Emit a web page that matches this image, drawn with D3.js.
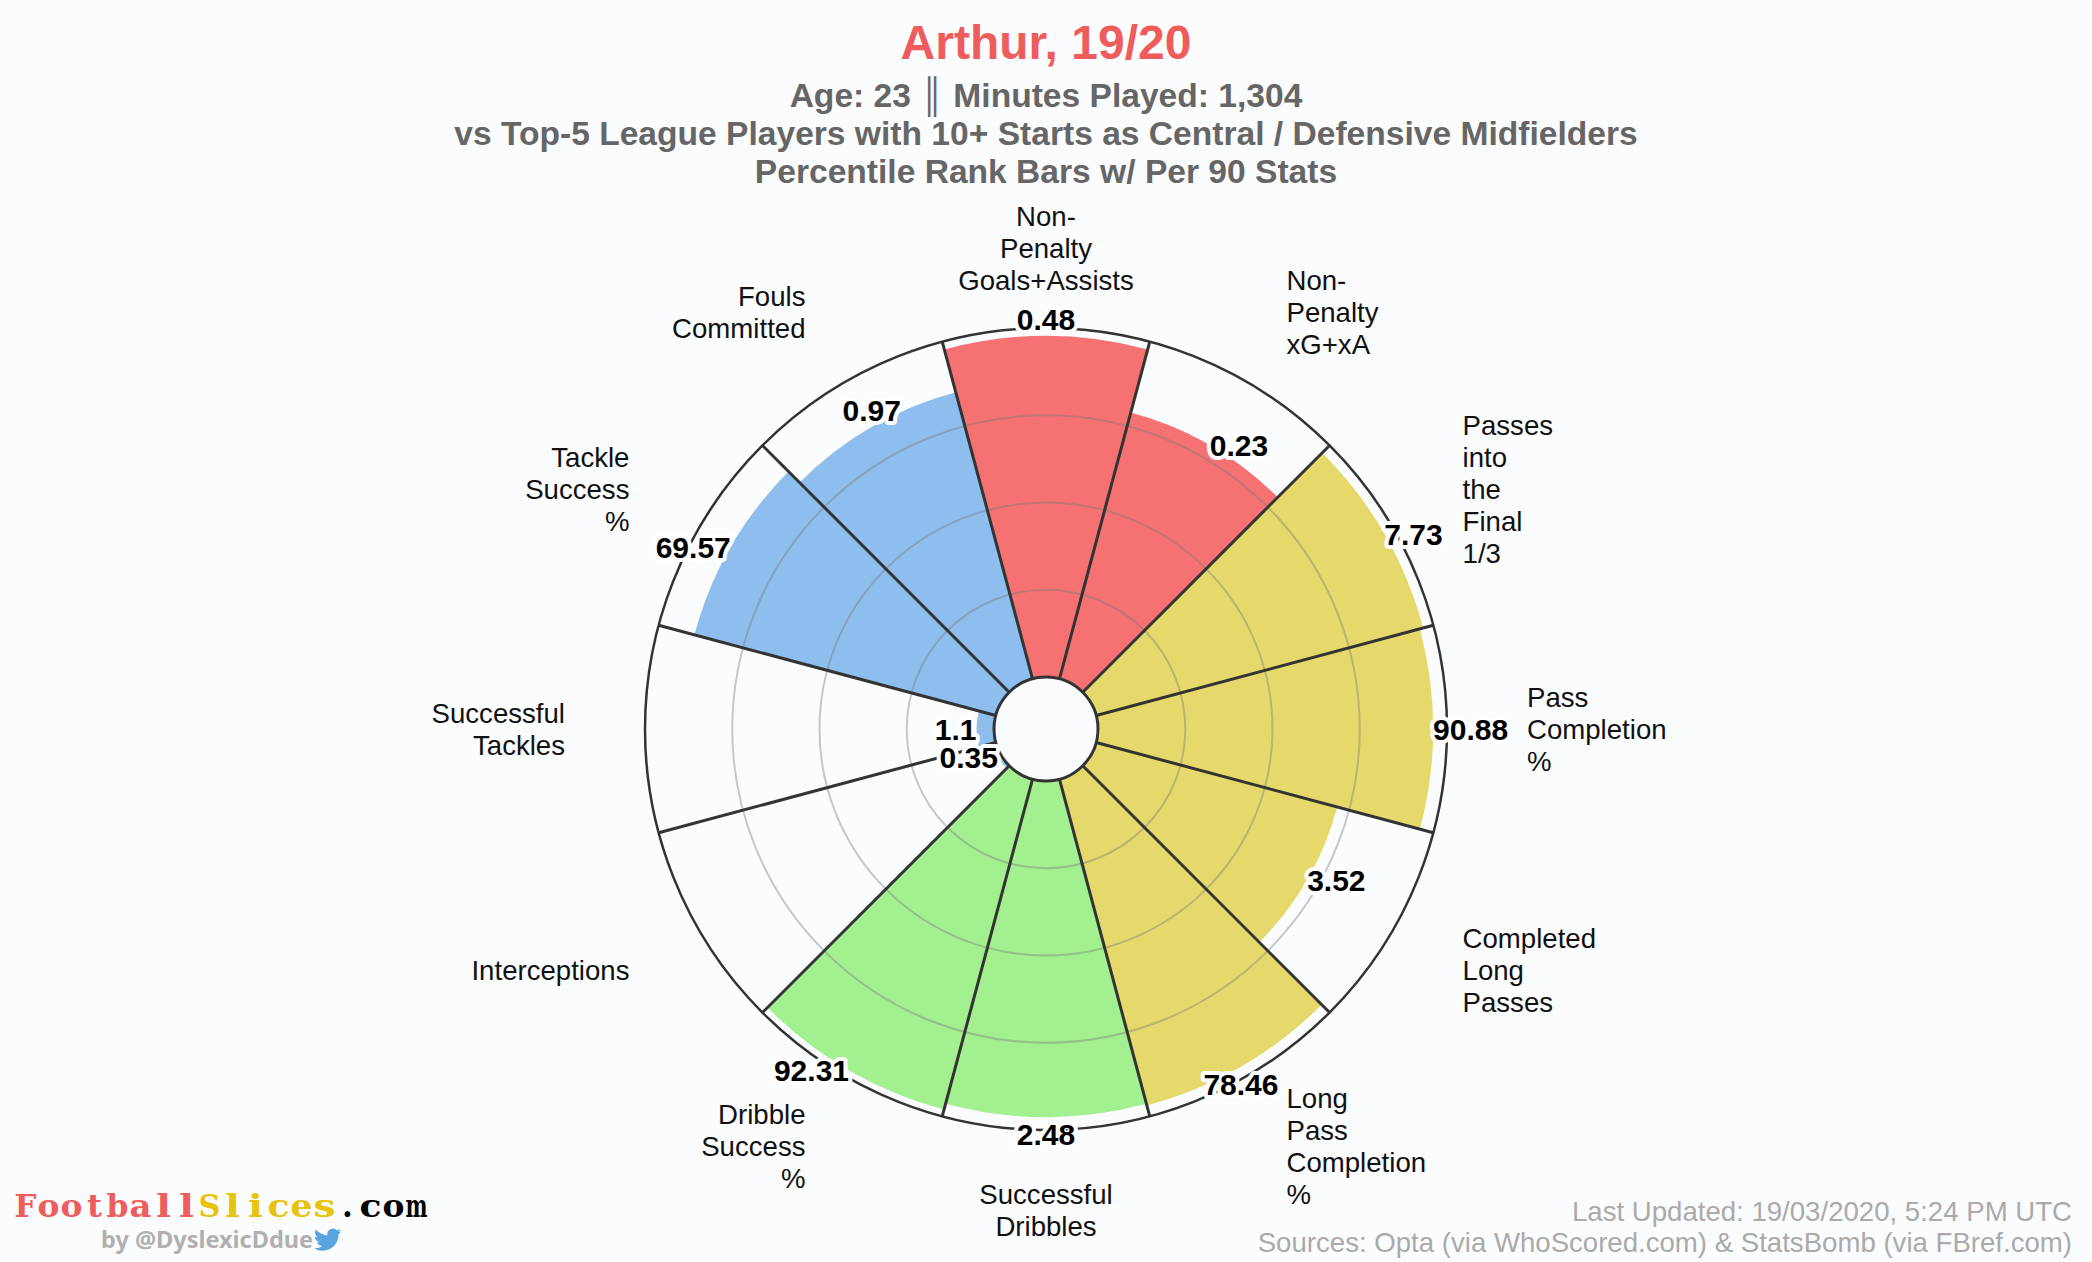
<!DOCTYPE html>
<html>
<head>
<meta charset="utf-8">
<script src="https://cdn.jsdelivr.net/npm/d3@7"></script>
<style>
  body { margin: 0; background: #fbfcfe; }
  text { font-family: "Liberation Sans", Arial, sans-serif; }
</style>
</head>
<body>
<div id="viz"></div>
<script>
// clockwise from the top slice
var categories = ["Non-Penalty Goals+Assists", "Non-Penalty xG+xA", "Passes into the Final 1/3",
  "Pass Completion %", "Completed Long Passes", "Long Pass Completion %", "Successful Dribbles",
  "Dribble Success %", "Interceptions", "Successful Tackles", "Tackle Success %", "Fouls Committed"];
var percentiles = [97.7, 79, 97, 96, 71.5, 96.8, 96.3, 98, 1, 5, 89.4, 85];
var statLabels = ["0.48", "0.23", "7.73", "90.88", "3.52", "78.46", "2.48", "92.31", "0.35", "1.1", "69.57", "0.97"];
var groups = ["attack", "attack", "passing", "passing", "passing", "passing",
  "dribbling", "dribbling", "defending", "defending", "defending", "defending"];
var groupNames = ["attack", "passing", "dribbling", "defending"];
var groupColours = ["#f67272", "#e6d96c", "#a3f090", "#8ebeee"];
var ringTicks = [25, 50, 75];
var subtitleLines = ["Age: 23 \u2551 Minutes Played: 1,304",
  "vs Top-5 League Players with 10+ Starts as Central / Defensive Midfielders",
  "Percentile Rank Bars w/ Per 90 Stats"];
var footerLines = ["Last Updated: 19/03/2020, 5:24 PM UTC",
  "Sources: Opta (via WhoScored.com) & StatsBomb (via FBref.com)"];
var logoParts = ["Football", "Slices", ".com"];
var logoColours = ["#ee5c5c", "#e8c30c", "#000000"];

var width = 2092, height = 1262;
var cx = 1046, cy = 729;
var hole_radius = 52, outer_radius = 401, label_radius = 481;
var line_colour = "#333333";

var svg = d3.select("#viz").append("svg")
  .attr("width", width)
  .attr("height", height)
  .style("display", "block");

svg.append("rect").attr("width", width).attr("height", height).attr("fill", "#fbfcfe");

var r = d3.scaleLinear().domain([0, 100]).range([hole_radius, outer_radius]);
var angle = d3.scaleBand().domain(categories).range([-Math.PI / 12, 2 * Math.PI - Math.PI / 12]);
var colour = d3.scaleOrdinal().domain(groupNames).range(groupColours);

function mid(c) { return angle(c) + angle.bandwidth() / 2; }
function px(rad, a) { return rad * Math.sin(a); }
function py(rad, a) { return -rad * Math.cos(a); }

var plot = svg.append("g").attr("transform", "translate(" + cx + "," + cy + ")");

// bars
var arc = d3.arc();
plot.selectAll(".bar").data(categories).join("path")
  .attr("class", "bar")
  .attr("fill", function(d, i) { return colour(groups[i]); })
  .attr("d", function(d, i) {
    return arc({ innerRadius: hole_radius, outerRadius: r(percentiles[i]),
      startAngle: angle(d), endAngle: angle(d) + angle.bandwidth() });
  });

// rings
plot.selectAll(".ring").data(ringTicks).join("circle")
  .attr("class", "ring")
  .attr("r", function(d) { return r(d); })
  .attr("fill", "none")
  .attr("stroke", "rgba(120,120,120,0.4)")
  .attr("stroke-width", 2);

// spokes
plot.selectAll(".spoke").data(categories).join("line")
  .attr("class", "spoke")
  .attr("x1", function(d) { return px(r(0), angle(d)); })
  .attr("y1", function(d) { return py(r(0), angle(d)); })
  .attr("x2", function(d) { return px(r(100), angle(d)); })
  .attr("y2", function(d) { return py(r(100), angle(d)); })
  .attr("stroke", line_colour)
  .attr("stroke-width", 3);

plot.append("circle").attr("r", r(100)).attr("fill", "none")
  .attr("stroke", line_colour).attr("stroke-width", 2.5);
plot.append("circle").attr("r", r(0)).attr("fill", "#fbfcfe")
  .attr("stroke", line_colour).attr("stroke-width", 3);

// category labels, one word per line
plot.selectAll(".cat").data(categories).join("text")
  .attr("class", "cat")
  .attr("font-size", 27.6)
  .attr("fill", "#111111")
  .attr("text-anchor", function(d) {
    var s = Math.sin(mid(d));
    return Math.abs(s) < 0.01 ? "middle" : (s > 0 ? "start" : "end");
  })
  .each(function(d) {
    var lines = d.split(/(?<=-)|\s+/);
    var x = px(label_radius, mid(d));
    var y = py(label_radius, mid(d)) - (lines.length - 1) * 32 / 2 + 10;
    d3.select(this).selectAll("tspan").data(lines).join("tspan")
      .attr("x", x)
      .attr("y", function(l, i) { return y + i * 32; })
      .text(function(l) { return l; });
  });

// value labels: centred above/below near the poles, otherwise beside the bar end
var above = [0, 11], below = [5, 6];
var values = plot.selectAll(".val").data(categories).join("text")
  .attr("class", "val")
  .attr("font-size", 30)
  .attr("font-weight", "bold")
  .attr("fill", "#000000")
  .attr("stroke", "#ffffff")
  .attr("stroke-width", 8)
  .attr("stroke-linejoin", "round")
  .attr("paint-order", "stroke")
  .attr("text-anchor", function(d, i) {
    if (above.indexOf(i) >= 0 || below.indexOf(i) >= 0) return "middle";
    return Math.sin(mid(d)) > 0 ? "start" : "end";
  })
  .attr("x", function(d, i) { return px(r(percentiles[i]), mid(d)); })
  .attr("y", function(d, i) {
    var y = py(r(percentiles[i]), mid(d)) + 11;
    if (above.indexOf(i) >= 0) y -= 17;
    if (below.indexOf(i) >= 0) y += 17;
    return y;
  })
  .text(function(d, i) { return statLabels[i]; });

// headings
svg.append("text").attr("x", cx).attr("y", 59)
  .attr("text-anchor", "middle").attr("font-size", 48).attr("font-weight", "bold")
  .attr("fill", "#ee5c5c").text("Arthur, 19/20");

svg.selectAll(".sub").data(subtitleLines).join("text")
  .attr("class", "sub")
  .attr("x", cx)
  .attr("y", function(d, i) { return 107 + i * 38; })
  .attr("text-anchor", "middle")
  .attr("font-size", 33.6)
  .attr("font-weight", "bold")
  .attr("fill", "#666666")
  .text(function(d) { return d; });

// footer
svg.selectAll(".foot").data(footerLines).join("text")
  .attr("class", "foot")
  .attr("x", 2072)
  .attr("y", function(d, i) { return 1221 + i * 31; })
  .attr("text-anchor", "end")
  .attr("font-size", 27.6)
  .attr("fill", "#aaaaaa")
  .text(function(d) { return d; });

// logo is a slab monospace, so each letter gets its own fixed-width cell
var logoChars = [];
logoParts.forEach(function(part, p) {
  part.split("").forEach(function(ch) { logoChars.push({ ch: ch, fill: logoColours[p] }); });
});
var logoX = d3.scaleBand().domain(d3.range(logoChars.length)).range([14, 428]);
svg.append("g").selectAll("text").data(logoChars).join("text")
  .attr("x", function(d, i) { return logoX(i) + logoX.bandwidth() / 2; })
  .attr("y", 1217)
  .attr("text-anchor", "middle")
  .style("font-family", "'DejaVu Serif', serif")
  .attr("font-size", 31)
  .attr("font-weight", "bold")
  .attr("fill", function(d) { return d.fill; })
  .attr("textLength", function(d) { return d.ch === "." ? null : (d.ch === "l" || d.ch === "i" || d.ch === "t" ? 15 : 22); })
  .attr("lengthAdjust", "spacingAndGlyphs")
  .text(function(d) { return d.ch; });

svg.append("text").attr("x", 101).attr("y", 1248)
  .style("font-family", "'Noto Sans', sans-serif")
  .attr("font-size", 23.5).attr("font-weight", "bold").attr("fill", "#b0b0b0")
  .text("by @DyslexicDdue");

svg.append("path")
  .attr("transform", "translate(314,1226) scale(1.14)")
  .attr("fill", "#5aa4e0")
  .attr("d", "M23.953 4.57a10 10 0 01-2.825.775 4.958 4.958 0 002.163-2.723c-.951.555-2.005.959-3.127 1.184a4.92 4.92 0 00-8.384 4.482C7.69 8.095 4.067 6.13 1.64 3.162a4.822 4.822 0 00-.666 2.475c0 1.71.87 3.213 2.188 4.096a4.904 4.904 0 01-2.228-.616v.06a4.923 4.923 0 003.946 4.827 4.996 4.996 0 01-2.212.085 4.936 4.936 0 004.604 3.417 9.867 9.867 0 01-6.102 2.105c-.39 0-.779-.023-1.17-.067a13.995 13.995 0 007.557 2.209c9.053 0 13.998-7.496 13.998-13.985 0-.21 0-.42-.015-.63A9.935 9.935 0 0024 4.59z");
</script>
</body>
</html>
